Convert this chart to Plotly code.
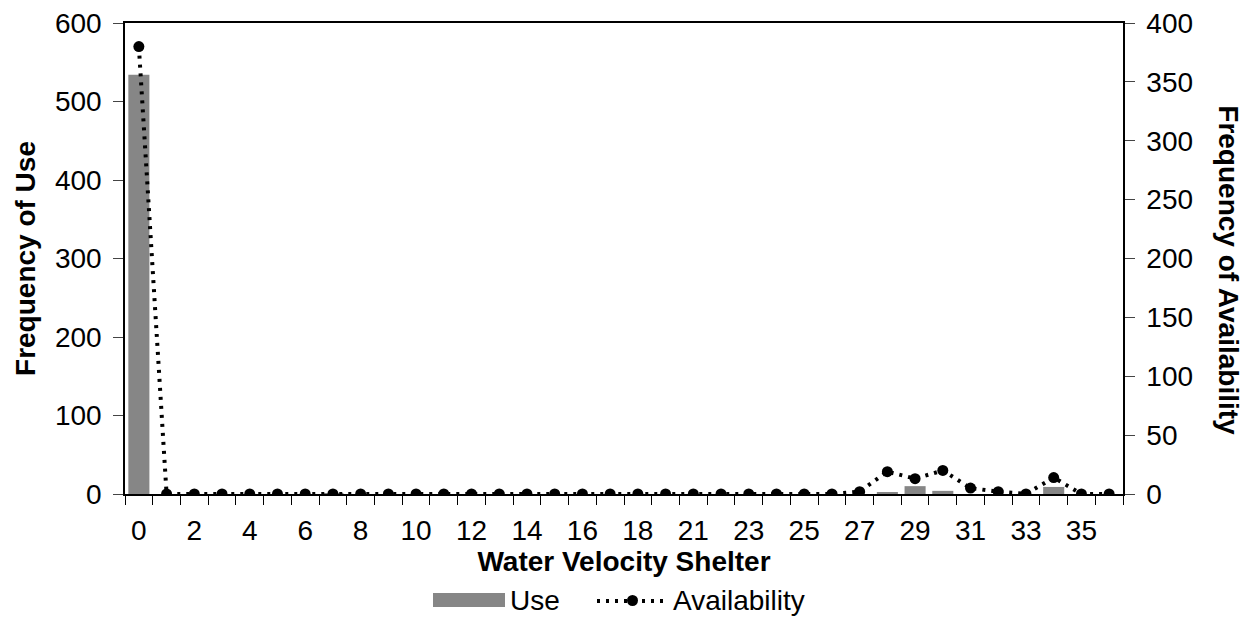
import plotly.graph_objects as go

# categories (water velocity shelter classes)
shelter = [0, 1, 2, 3, 4, 5, 6, 7, 8, 9, 10, 11, 12, 13, 14, 15, 16, 17, 18, 19,
           21, 22, 23, 24, 25, 26, 27, 28, 29, 30, 31, 32, 33, 34, 35, 36]
use = [534, 0, 0, 0, 0, 0, 0, 1, 0, 0, 0, 0, 0, 0, 0, 0, 0, 0, 0, 0,
       0, 0, 0, 0, 0, 0, 0, 2, 10, 4, 0, 0, 0, 9, 0, 0]
availability = [380, 0, 0, 0, 0, 0, 0, 0, 0, 0, 0, 0, 0, 0, 0, 0, 0, 0, 0, 0,
                0, 0, 0, 0, 0, 0, 2, 19, 13, 20, 5, 2, 0, 14, 0, 0]

pos = list(range(len(shelter)))
font = 'Liberation Sans, Arial, sans-serif'
bar_col = '#868686'

fig = go.Figure()
fig.add_trace(go.Bar(x=pos, y=use, name='Use', marker=dict(color=bar_col, line_width=0),
                     yaxis='y'))
fig.add_trace(go.Scatter(x=pos, y=availability, name='Availability', yaxis='y2',
                         mode='lines+markers',
                         line=dict(color='black', width=4, dash='3px,6px'),
                         marker=dict(color='black', size=11)))

# page body adds an 8px offset, margins compensate for it
fig.update_layout(
    width=1252, height=618,
    margin=dict(l=117, r=137, t=15, b=132),
    plot_bgcolor='white', paper_bgcolor='white',
    font=dict(family=font, size=28, color='black'),
    bargap=0.24,
    showlegend=False,
    xaxis=dict(
        range=[-0.5, len(shelter) - 0.5],
        tickmode='array', tickvals=pos[::2], ticktext=[str(s) for s in shelter[::2]],
        ticks='outside', ticklen=0, ticklabelstandoff=11,
        minor=dict(ticks='outside', ticklen=9, tick0=-0.5, dtick=1, tickcolor='black'),
        showline=True, linecolor='black', linewidth=1.5, mirror=True,
        showgrid=False, zeroline=False, automargin=False,
        title=dict(text='<b>Water Velocity Shelter</b>', font=dict(size=28), standoff=5),
    ),
    yaxis=dict(
        range=[0, 600], dtick=100, ticks='outside', ticklen=10, ticklabelstandoff=6,
        ticklabeloverflow='allow',
        showline=True, linecolor='black', linewidth=1.5,
        showgrid=False, zeroline=False, automargin=False,
        title=dict(text='<b>Frequency of Use</b>', font=dict(size=28), standoff=11),
    ),
    yaxis2=dict(
        range=[0, 400], dtick=50, overlaying='y', side='right',
        ticks='outside', ticklen=10, ticklabelstandoff=6,
        ticklabeloverflow='allow',
        showline=True, linecolor='black', linewidth=1.5,
        showgrid=False, zeroline=False, automargin=False,
    ),
)

fig.add_annotation(text='<b>Frequency of Availability</b>', textangle=90,
                   xref='paper', yref='paper', x=1, y=0.475, xanchor='center',
                   yanchor='middle', xshift=106, showarrow=False,
                   font=dict(size=28, family=font))

# legend drawn below the axis title
fig.add_shape(type='rect', xref='paper', yref='paper',
              x0=(433 - 125) / 998, x1=(505 - 125) / 998,
              y0=-(607 - 494) / 471, y1=-(593 - 494) / 471,
              fillcolor=bar_col, line_width=0)
fig.add_annotation(text='Use', xref='paper', yref='paper',
                   x=(508 - 125) / 998, y=-(600 - 494) / 471,
                   xanchor='left', yanchor='middle', showarrow=False,
                   font=dict(size=28, family=font))
fig.add_shape(type='line', xref='paper', yref='paper',
              x0=(597 - 125) / 998, x1=(668 - 125) / 998,
              y0=-(601 - 494) / 471, y1=-(601 - 494) / 471,
              line=dict(color='black', width=4, dash='3px,6px'))
fig.add_shape(type='circle', xref='paper', yref='paper',
              x0=(627 - 125) / 998, x1=(638 - 125) / 998,
              y0=-(606 - 494) / 471, y1=-(595 - 494) / 471,
              fillcolor='black', line_width=0)
fig.add_annotation(text='Availability', xref='paper', yref='paper',
                   x=(671 - 125) / 998, y=-(600 - 494) / 471,
                   xanchor='left', yanchor='middle', showarrow=False,
                   font=dict(size=28, family=font))

fig.write_html("out.html")
